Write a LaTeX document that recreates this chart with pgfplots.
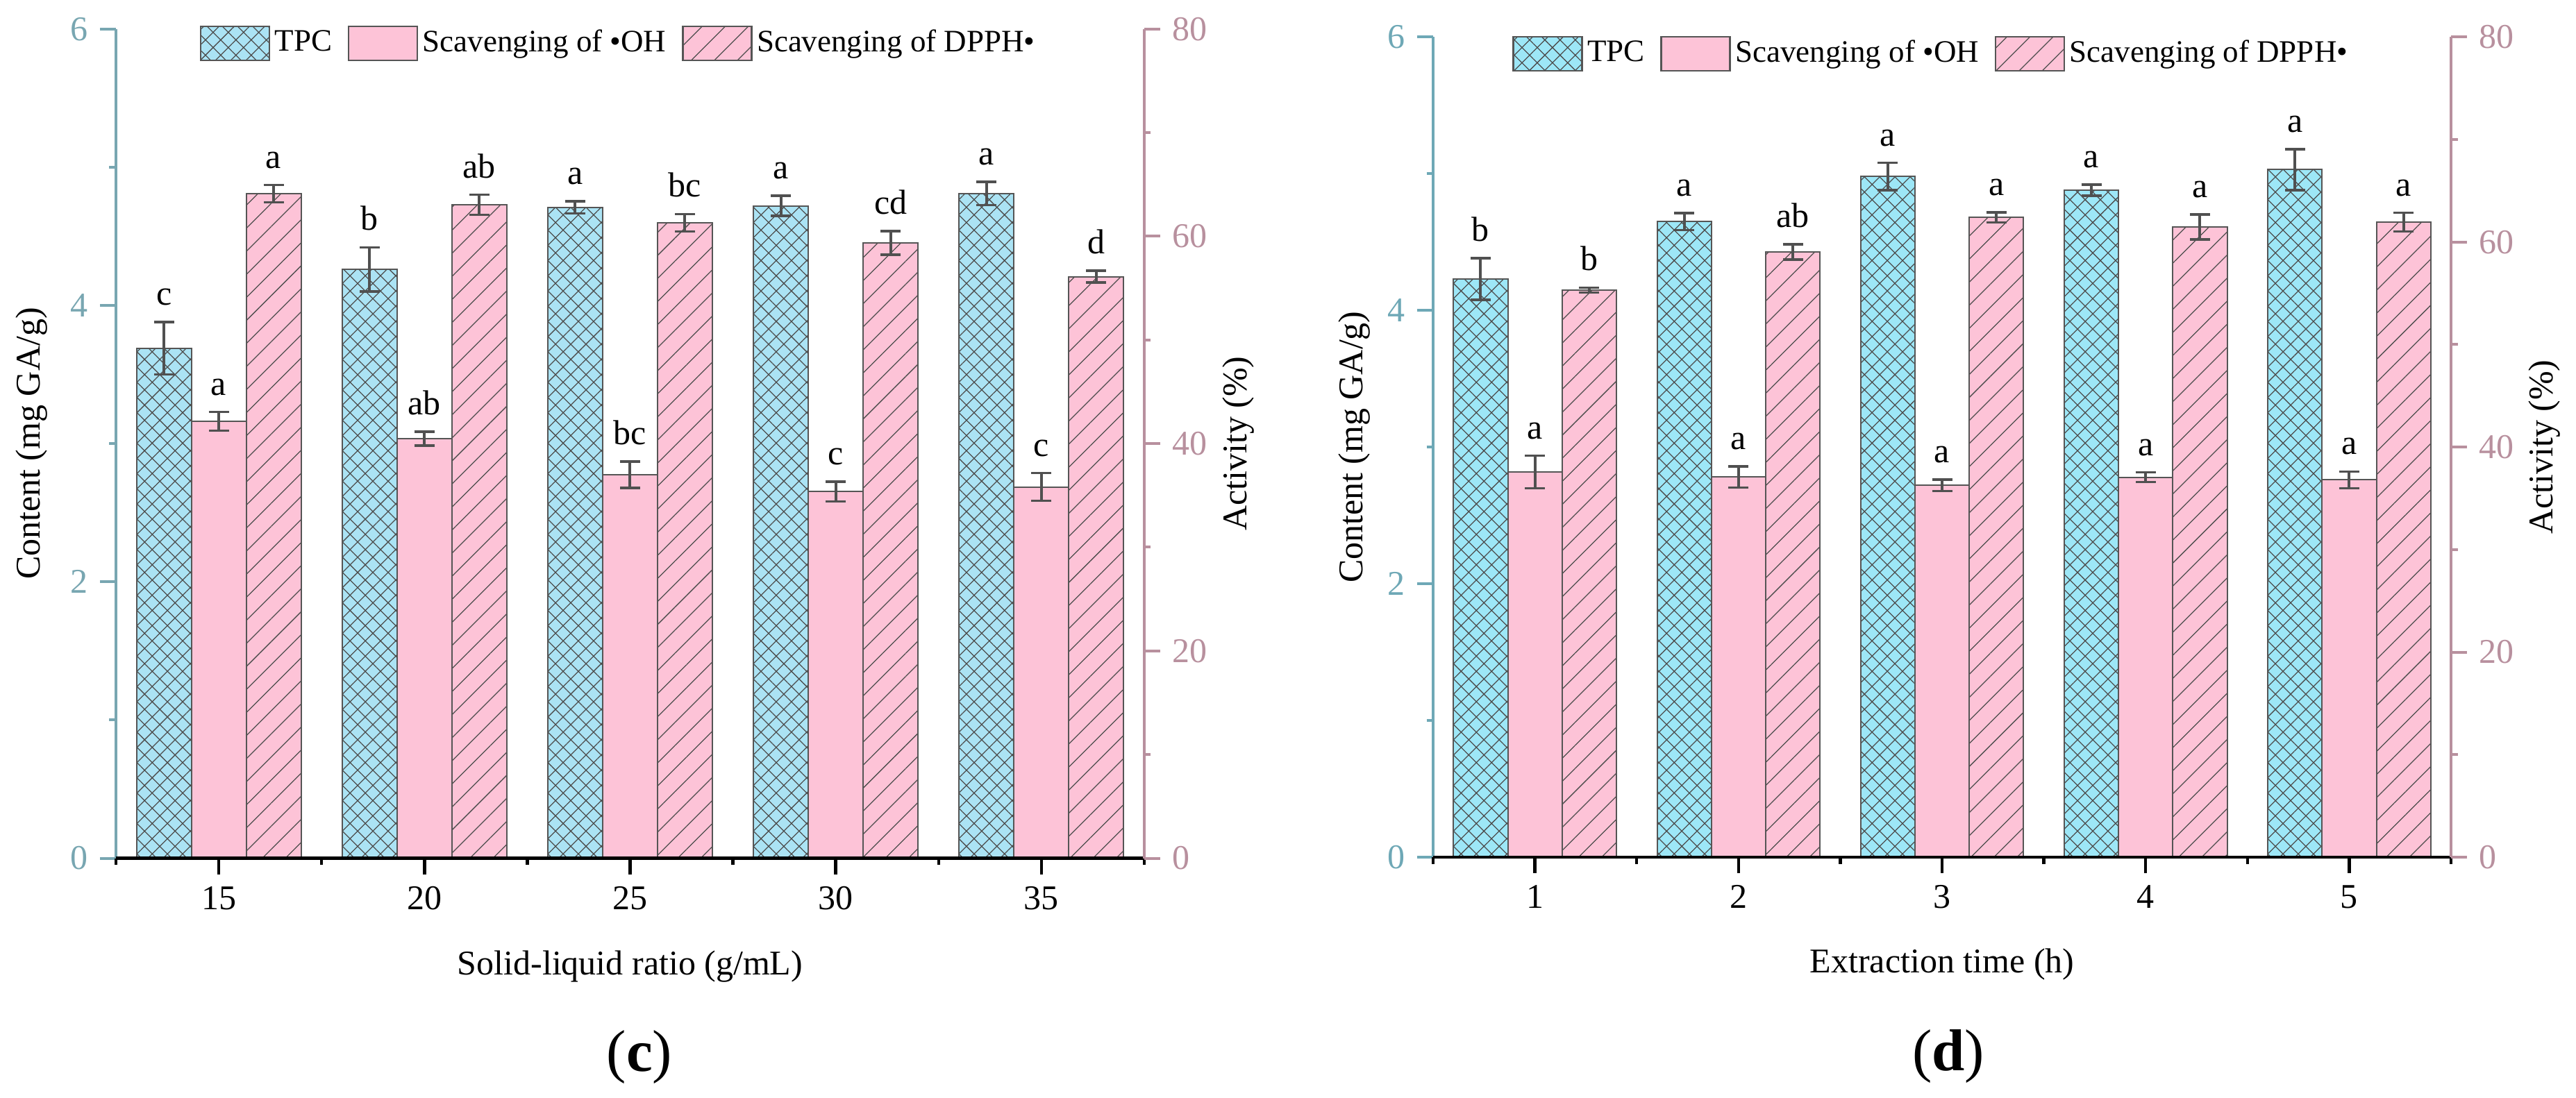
\documentclass[border=0pt]{standalone}
\usepackage{fontspec}
\setmainfont{Liberation Serif}
\usepackage{pgfplots}
\pgfplotsset{compat=1.18}
\usepackage{pgfplotstable}
\usetikzlibrary{patterns.meta}

\definecolor{tealL}{HTML}{78A6B1}
\definecolor{tealR}{HTML}{6EA8B6}
\definecolor{mauve}{HTML}{B8909E}
\definecolor{cyanL}{HTML}{ABE3F4}
\definecolor{cyanR}{HTML}{9DE7F7}
\definecolor{pinkc}{HTML}{FDC3D7}
\definecolor{hatchc}{HTML}{4D4D4D}
\definecolor{edgec}{HTML}{555555}
\definecolor{errc}{HTML}{505050}

\pgfplotstableread{
x tpc tpce tpcl oh ohe ohl dp dpe dpl
1 3.69 0.19 c 42.14 0.90 a 64.11 0.84 a
2 4.26 0.16 b 40.48 0.67 ab 63.04 0.97 ab
3 4.71 0.044 a 36.99 1.27 bc 61.31 0.84 bc
4 4.72 0.073 a 35.36 0.95 c 59.37 1.14 cd
5 4.81 0.084 a 35.81 1.34 c 56.10 0.57 d
}\tabC
\pgfplotstableread{
x tpc tpce tpcl oh ohe ohl dp dpe dpl
1 4.23 0.153 b 37.58 1.58 a 55.32 0.24 b
2 4.65 0.063 a 37.08 1.04 a 59.04 0.74 ab
3 4.98 0.10 a 36.27 0.56 a 62.42 0.49 a
4 4.88 0.041 a 37.06 0.47 a 61.48 1.22 a
5 5.03 0.15 a 36.81 0.81 a 61.95 0.91 a
}\tabD

\newcommand{\fs}{\fontsize{10}{12}\selectfont}

\pgfplotsset{
  swatch/.style={legend image code/.code={\draw[##1, line width=0.5pt] (0pt,-4.9pt) rectangle (19.8pt,4.9pt);}},
  errs/.style={error bars/y dir=both, error bars/y explicit,
     error bars/error bar style={line width=0.8pt, draw=errc},
     error bars/error mark options={rotate=90, line width=0.7pt, mark size=2.9pt, draw=errc}},
  barbase/.style={ybar, bar width=0.2667, bar shift=0, draw=edgec, line width=0.4pt},
  xhatch/.style={postaction={pattern={Hatch[angle=45,distance=3.1pt,line width=0.25pt]}, pattern color=hatchc}},
  lhatch/.style={postaction={pattern={Lines[angle=45,distance=4.7pt,line width=0.25pt]}, pattern color=hatchc}},
  labs/.style={forget plot, ybar, bar width=0.2667, bar shift=0, draw=none, fill=none, nodes near coords, point meta=explicit symbolic,
     nodes near coords style={font=\fs, text=black, inner sep=0pt, yshift=4.6pt}},
  common/.style={scale only axis, xmin=0.5, xmax=5.5, tick align=outside, major tick length=4.6pt, minor tick length=1.9pt, clip=false,
     tick label style={font=\fs}, label style={font=\fs}, /pgf/number format/assume math mode=true},
  leftax/.style={common, ymin=0, ymax=6, axis x line=none, axis y line*=left,
     y axis line style={draw=#1, line width=0.8pt}, ytick={0,2,4,6}, minor ytick={1,3,5},
     ytick style={draw=#1, line width=0.8pt}, yticklabel style={text=#1}, ylabel={Content (mg GA/g)}},
  rightax/.style={common, ymin=0, ymax=80, axis x line*=bottom, axis y line*=right, axis on top,
     x axis line style={draw=black, line width=0.9pt}, y axis line style={draw=mauve, line width=0.8pt},
     xtick={1,2,3,4,5}, minor xtick={0.5,1.5,2.5,3.5,4.5,5.5}, ytick={0,20,40,60,80}, minor ytick={10,30,50,70},
     xtick style={draw=black, line width=0.9pt}, ytick style={draw=mauve, line width=0.8pt}, yticklabel style={text=mauve},
     ylabel={Activity (\%)}, swatch,
     legend columns=3, legend style={draw=none, fill=none, anchor=center, font=\fontsize{9}{10.8}\selectfont, inner sep=0pt,
        nodes={inner sep=1.3pt}, /tikz/every even column/.append style={column sep=3.2pt}}},
}

\begin{document}
\begin{tikzpicture}
\path[use as bounding box] (0,0) rectangle (742pt,316.2pt);

% ---------------- panel (c) ----------------
\begin{axis}[leftax=tealL, at={(33.4pt,68.9pt)}, anchor=south west, width=296.2pt, height=238.96pt,
   ylabel style={at={(axis description cs:-0.0817,0.5)}, anchor=center}]
 \addplot[barbase, fill=cyanL, xhatch, errs] table[x expr=\thisrow{x}-0.2667, y=tpc, y error=tpce]{\tabC};
 \addplot[labs] table[x expr=\thisrow{x}-0.2667, y expr=\thisrow{tpc}+\thisrow{tpce}, meta=tpcl]{\tabC};
\end{axis}
\begin{axis}[rightax, at={(33.4pt,68.9pt)}, anchor=south west, width=296.2pt, height=238.96pt,
   xticklabels={15,20,25,30,35}, xlabel={Solid-liquid ratio (g/mL)},
   xlabel style={at={(axis description cs:0.5,-0.141)}, anchor=base},
   ylabel style={at={(axis description cs:1.0912,0.5)}, anchor=center},
   legend style={at={(0.4899,0.9826)}}]
 \addlegendimage{swatch, fill=cyanL, draw=edgec, line width=0.4pt, xhatch}
 \addlegendentry{TPC}
 \addplot[barbase, fill=pinkc, swatch, errs] table[x=x, y=oh, y error=ohe]{\tabC};
 \addlegendentry{Scavenging of •OH}
 \addplot[barbase, fill=pinkc, lhatch, swatch, errs] table[x expr=\thisrow{x}+0.2667, y=dp, y error=dpe]{\tabC};
 \addlegendentry{Scavenging of DPPH•}
 \addplot[labs] table[x=x, y expr=\thisrow{oh}+\thisrow{ohe}, meta=ohl]{\tabC};
 \addplot[labs] table[x expr=\thisrow{x}+0.2667, y expr=\thisrow{dp}+\thisrow{dpe}, meta=dpl]{\tabC};
\end{axis}

% ---------------- panel (d) ----------------
\begin{axis}[leftax=tealR, at={(412.8pt,69.2pt)}, anchor=south west, width=293.2pt, height=236.34pt,
   ylabel style={at={(axis description cs:-0.0771,0.5)}, anchor=center}]
 \addplot[barbase, fill=cyanR, xhatch, errs] table[x expr=\thisrow{x}-0.2667, y=tpc, y error=tpce]{\tabD};
 \addplot[labs] table[x expr=\thisrow{x}-0.2667, y expr=\thisrow{tpc}+\thisrow{tpce}, meta=tpcl]{\tabD};
\end{axis}
\begin{axis}[rightax, at={(412.8pt,69.2pt)}, anchor=south west, width=293.2pt, height=236.34pt,
   xticklabels={1,2,3,4,5}, xlabel={Extraction time (h)},
   xlabel style={at={(axis description cs:0.5,-0.1413)}, anchor=base},
   ylabel style={at={(axis description cs:1.0921,0.5)}, anchor=center},
   legend style={at={(0.4905,0.9795)}}]
 \addlegendimage{swatch, fill=cyanR, draw=edgec, line width=0.4pt, xhatch}
 \addlegendentry{TPC}
 \addplot[barbase, fill=pinkc, swatch, errs] table[x=x, y=oh, y error=ohe]{\tabD};
 \addlegendentry{Scavenging of •OH}
 \addplot[barbase, fill=pinkc, lhatch, swatch, errs] table[x expr=\thisrow{x}+0.2667, y=dp, y error=dpe]{\tabD};
 \addlegendentry{Scavenging of DPPH•}
 \addplot[labs] table[x=x, y expr=\thisrow{oh}+\thisrow{ohe}, meta=ohl]{\tabD};
 \addplot[labs] table[x expr=\thisrow{x}+0.2667, y expr=\thisrow{dp}+\thisrow{dpe}, meta=dpl]{\tabD};
\end{axis}

\node[anchor=base, font=\fontsize{17}{20}\selectfont] at (184.2pt,7.6pt) {(\textbf{c})};
\node[anchor=base, font=\fontsize{17}{20}\selectfont] at (561.2pt,7.8pt) {(\textbf{d})};
\end{tikzpicture}
\end{document}
